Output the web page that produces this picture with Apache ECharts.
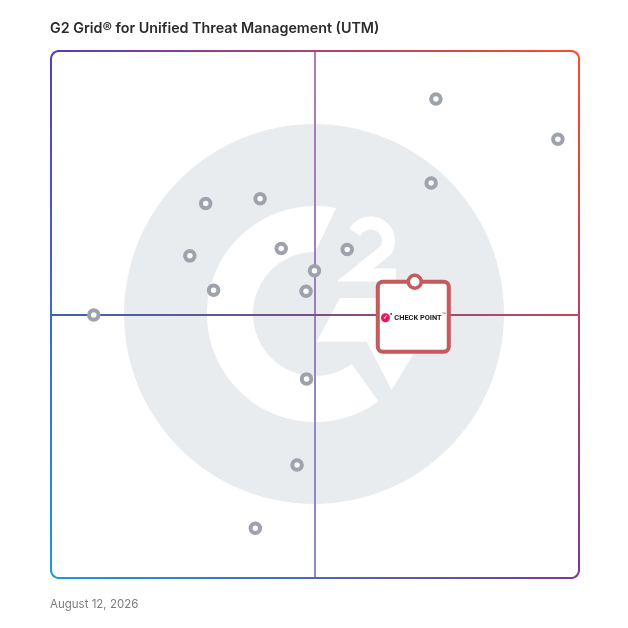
<!DOCTYPE html>
<html><head><meta charset="utf-8">
<script src="https://cdn.jsdelivr.net/npm/echarts@6/dist/echarts.min.js"></script>
<style>html,body{margin:0;padding:0;background:#fff}#c{width:628px;height:628px}</style>
</head><body><div id="c"></div>
<script>
// ---- data ----
const productX = [72.9, 96.0, 72.0, 29.3, 39.6, 26.3, 43.6, 56.1, 49.9, 30.8, 48.3, 8.1, 48.4, 46.6, 38.7];
const productY = [90.9, 83.3, 75.0, 71.1, 72.0, 61.2, 62.6, 62.4, 58.4, 54.7, 54.5, 50.0, 37.9, 21.6, 9.6];
const highlightName = ['Check Point'];
const highlightX = [68.9];
const highlightY = [56.3];
const axisMin = 0, axisMax = 100, axisMid = 50;
const titleText = 'G2 Grid\u00AE for Unified Threat Management (UTM)';
const dateText = 'August 12, 2026';

// ---- layout / style ----
const L = 51, R = 579, T = 51, B = 578, CR = 8;
const cTL = '#5a3db5', cTR = '#ff4a2a', cBL = '#1c9ad8', cBR = '#7b3897';

function arcPts(cx, cy, r, a0, a1, n) {
  const pts = [];
  for (let i = 0; i <= n; i++) {
    const a = (a0 + (a1 - a0) * i / n) * Math.PI / 180;
    pts.push([cx + r * Math.cos(a), cy + r * Math.sin(a)]);
  }
  return pts;
}
function lin(x, y, x2, y2, stops) {
  return {type: 'linear', x: x, y: y, x2: x2, y2: y2, global: true,
    colorStops: stops.map((c, i) => ({offset: i / (stops.length - 1), color: c}))};
}

// G2 watermark
const gcx = 315, gcy = 314;
const cPoly = arcPts(gcx, gcy, 108, -78.7, -306, 80).concat(arcPts(gcx, gcy, 62, -306.3, -90, 60));
const barPoly = [[340, 298], [447, 298], [391.7, 390], [366.7, 341.7], [316.7, 341.7]];
const twoLine = arcPts(370.5, 241, 18, -151, 30, 30).concat([[355, 275], [396, 275]]);

const frameSides = [
  {pts: arcPts(L + CR, T + CR, CR, 225, 270, 6).concat(arcPts(R - CR, T + CR, CR, 270, 315, 6)), grad: lin(L, 0, R, 0, [cTL, cTR])},
  {pts: arcPts(R - CR, T + CR, CR, 315, 360, 6).concat(arcPts(R - CR, B - CR, CR, 0, 45, 6)), grad: lin(0, T, 0, B, [cTR, cBR])},
  {pts: arcPts(R - CR, B - CR, CR, 45, 90, 6).concat(arcPts(L + CR, B - CR, CR, 90, 135, 6)), grad: lin(L, 0, R, 0, [cBL, cBR])},
  {pts: arcPts(L + CR, B - CR, CR, 135, 180, 6).concat(arcPts(L + CR, T + CR, CR, 180, 225, 6)), grad: lin(0, T, 0, B, [cTL, cBL])}
];

const graphics = [
  {type: 'circle', z: 0, silent: true, shape: {cx: 314, cy: 314, r: 190}, style: {fill: '#e9ecef'}},
  {type: 'polygon', z: 0, silent: true, shape: {points: cPoly}, style: {fill: '#fff'}},
  {type: 'polygon', z: 0, silent: true, shape: {points: barPoly}, style: {fill: '#fff'}},
  {type: 'polyline', z: 0, silent: true, shape: {points: twoLine}, style: {stroke: '#fff', lineWidth: 13, lineCap: 'butt', lineJoin: 'miter', fill: null}}
].concat(frameSides.map(s => ({type: 'polyline', z: 10, silent: true, shape: {points: s.pts},
  style: {stroke: s.grad, lineWidth: 2, fill: null, lineCap: 'round'}})));

const boxPath = 'path://M5,0H66A5,5 0 0 1 71,5V65A5,5 0 0 1 66,70H5A5,5 0 0 1 0,65V5A5,5 0 0 1 5,0Z';

const chart = echarts.init(document.getElementById('c'));
chart.setOption({
  animation: false,
  backgroundColor: '#fff',
  title: [
    {text: titleText, left: 50, top: 22, padding: 0,
      textStyle: {fontFamily: 'Inter', fontWeight: 600, fontSize: 14.3, color: '#2b2b2b'}},
    {text: dateText, left: 50, top: 599, padding: 0,
      textStyle: {fontFamily: 'Inter', fontWeight: 400, fontSize: 11.5, color: '#7d7d7d'}}
  ],
  grid: {left: L, right: 628 - R, top: T, bottom: 628 - R},
  xAxis: {type: 'value', min: axisMin, max: axisMax, show: false},
  yAxis: {type: 'value', min: axisMin, max: axisMax, show: false},
  graphic: graphics,
  series: [
    {
      type: 'scatter', data: [], z: 1, silent: true,
      markLine: {
        silent: true, z: 1, symbol: 'none', label: {show: false}, animation: false,
        data: [
          {xAxis: axisMid, lineStyle: {type: 'solid', width: 2, color: lin(0, T, 0, R, ['#b07ab4', '#9a80c4', '#8a8cd4'])}},
          {yAxis: axisMid, lineStyle: {type: 'solid', width: 2, color: lin(L, 0, R, 0, ['#3d60b8', '#7b4d8c', '#c4485a'])}}
        ]
      }
    },
    {
      type: 'scatter', z: 3, silent: true,
      data: productX.map((x, i) => [x, productY[i]]),
      symbol: 'circle', symbolSize: 9.5,
      itemStyle: {color: '#fff', borderColor: '#9da2ac', borderWidth: 4, opacity: 1}
    },
    {
      type: 'scatter', z: 4, silent: true,
      data: highlightX.map((x, i) => ({name: highlightName[i], value: [x, highlightY[i]]})),
      symbol: boxPath, symbolSize: [71, 70], symbolOffset: [-1.5, 35], symbolKeepAspect: false,
      itemStyle: {color: '#fff', borderColor: '#c45a5e', borderWidth: 4, opacity: 1},
      label: {
        show: true, position: 'inside', offset: [0, 1],
        textBorderWidth: 0, textShadowBlur: 0,
        formatter: '{icon|\u2713}{dot|\u25CF}{name|CHECK POINT}{tm|\u2122}',
        rich: {
          icon: {width: 9, height: 9, lineHeight: 9, borderRadius: 4.5, backgroundColor: '#e8175d', color: '#fff', fontSize: 6, fontWeight: 'bold', align: 'center', verticalAlign: 'middle', textBorderWidth: 0},
          dot: {fontSize: 4, color: '#111', verticalAlign: 'top', lineHeight: 12, padding: [0, 1, 0, 0], textBorderWidth: 0},
          name: {fontSize: 7.4, fontWeight: 'bold', color: '#1a1a1a', fontFamily: 'Roboto', lineHeight: 12, padding: [0, 0, 0, 1], textBorderWidth: 0},
          tm: {fontSize: 4, color: '#333', verticalAlign: 'top', lineHeight: 12, textBorderWidth: 0}
        }
      }
    },
    {
      type: 'scatter', z: 5, silent: true,
      data: highlightX.map((x, i) => [x, highlightY[i]]),
      symbol: 'circle', symbolSize: 13,
      itemStyle: {color: '#fff', borderColor: '#c45a5e', borderWidth: 3.5, opacity: 1}
    }
  ]
});
</script>
</body></html>
